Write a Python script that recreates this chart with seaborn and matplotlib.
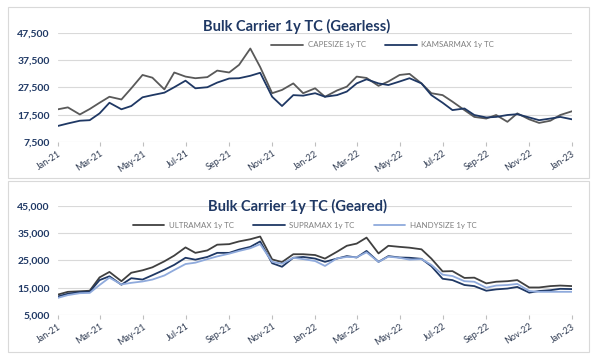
import pandas as pd
import numpy as np
import matplotlib
matplotlib.use("Agg")
import matplotlib.pyplot as plt
import matplotlib.dates as mdates
from matplotlib.patches import Rectangle
import seaborn as sns

# semi-monthly observations, Jan-21 .. Jan-23
dates = pd.date_range("2021-01-01", periods=49, freq="SMS")

capesize = [19500, 20200, 17600, 19600, 21900, 24100, 23100, 27200, 32100, 31100,
            26800, 33000, 31500, 30900, 31300, 33700, 33000, 35800, 41800, 35000,
            25400, 26600, 29000, 25400, 27200, 24100, 26400, 27800, 31500, 31000,
            28100, 29700, 32100, 32500, 29000, 25400, 24700, 22300, 19200, 16700,
            16100, 17400, 14900, 18000, 15800, 14500, 15300, 17400, 18800]
kamsarmax = [13400, 14300, 15300, 15500, 18000, 21900, 19500, 20700, 23900, 24700,
             25600, 27600, 30000, 27200, 27600, 29300, 30800, 30900, 31800, 32900,
             24100, 20700, 24700, 24500, 25400, 24100, 24700, 26000, 29000, 30500,
             29000, 28400, 29700, 30900, 29000, 24700, 21900, 19200, 19800, 17400,
             16500, 16700, 17400, 17700, 16500, 15500, 16100, 16700, 15800]

ultramax = [12500, 13500, 13700, 13900, 18800, 20800, 17400, 20500, 21400, 22500,
            24700, 26800, 29800, 27800, 28700, 30800, 31000, 32000, 32800, 33800,
            25400, 24400, 27300, 27300, 27000, 25700, 28200, 30400, 31200, 33400,
            27600, 30400, 30000, 29700, 29100, 25700, 21000, 21100, 18600, 18700,
            16600, 17200, 17400, 17800, 15100, 15100, 15600, 15800, 15600]
supramax = [11800, 12800, 13400, 13500, 17800, 19200, 16100, 18500, 18000, 19600,
            21600, 23400, 26000, 25300, 26300, 27800, 27800, 29000, 30000, 32000,
            24000, 22700, 26000, 26300, 25700, 24500, 25700, 26600, 26100, 28500,
            24500, 26600, 26100, 26000, 25600, 22900, 18300, 17800, 16000, 15600,
            13900, 14400, 14700, 15300, 13200, 13800, 14100, 14600, 14500]
handysize = [11300, 12300, 13000, 13100, 16000, 18700, 16200, 16800, 17300, 18000,
             19500, 21500, 23700, 24200, 25500, 26500, 27500, 28500, 29500, 31000,
             24500, 23800, 26000, 25500, 24800, 23000, 25800, 26300, 26200, 28000,
             24500, 26400, 26000, 25300, 25500, 23400, 19800, 19300, 17400, 17200,
             15000, 15800, 16000, 16400, 13800, 13500, 13500, 13500, 13500]

top_names = ["CAPESIZE 1y TC", "KAMSARMAX 1y TC"]
bot_names = ["ULTRAMAX 1y TC", "SUPRAMAX 1y TC", "HANDYSIZE 1y TC"]
top_ticks = [7500, 17500, 27500, 37500, 47500]
bot_ticks = [5000, 15000, 25000, 35000, 45000]

top_df = pd.DataFrame({"date": dates, top_names[0]: capesize, top_names[1]: kamsarmax})
top_df = top_df.melt("date", var_name="series", value_name="rate")
bot_df = pd.DataFrame({"date": dates, bot_names[0]: ultramax,
                       bot_names[1]: supramax, bot_names[2]: handysize})
bot_df = bot_df.melt("date", var_name="series", value_name="rate")

sns.set_style("white")
plt.rcParams["font.family"] = ["Lato", "DejaVu Sans"]

navy = "#1F3864"
fig = plt.figure(figsize=(6, 3.59), dpi=100)

# panel frames
for y0 in (0.504, 0.0195):
    fig.patches.append(Rectangle((0.013, y0), 0.968, 0.476, transform=fig.transFigure,
                                 fill=False, edgecolor="#D9D9D9", linewidth=0.8))

ax1 = fig.add_axes([0.0967, 0.6045, 0.857, 0.3036])
ax2 = fig.add_axes([0.0967, 0.1226, 0.857, 0.3036])

sns.lineplot(data=top_df, x="date", y="rate", hue="series",
             palette=["#595959", navy], linewidth=1.3, ax=ax1, legend=True)
sns.lineplot(data=bot_df, x="date", y="rate", hue="series",
             palette=["#404040", navy, "#8FAADC"], linewidth=1.3, ax=ax2, legend=True)

def style(ax, ticks, title, ty, lx):
    ax.set_ylim(ticks[0], ticks[-1])
    ax.set_xlim(pd.Timestamp("2021-01-01"), pd.Timestamp("2023-01-01"))
    ax.set_yticks(ticks)
    ax.set_yticklabels([f"{t:,}" for t in ticks], fontsize=7.5, fontweight="bold", color=navy)
    ax.xaxis.set_major_locator(mdates.MonthLocator(bymonth=[1, 3, 5, 7, 9, 11]))
    ax.xaxis.set_major_formatter(mdates.DateFormatter("%b-%y"))
    for lab in ax.get_xticklabels():
        lab.set_rotation(33)
        lab.set_ha("right")
        lab.set_rotation_mode("anchor")
        lab.set_fontsize(6.5)
        lab.set_color("#2F3B52")
    ax.grid(axis="y", color="#D9D9D9", linewidth=0.8)
    for s in ax.spines.values():
        s.set_visible(False)
    ax.tick_params(axis="x", length=3, color="#BFBFBF", pad=2, bottom=True)
    ax.tick_params(axis="y", length=0, pad=6)
    ax.set_xlabel("")
    ax.set_ylabel("")
    fig.text(0.495, ty, title, ha="center", va="center", fontsize=10.5,
             fontweight="bold", color=navy)
    h, l = ax.get_legend_handles_labels()
    ax.legend(h, l, loc="center", bbox_to_anchor=(lx, ty - 0.052), bbox_transform=fig.transFigure,
              ncol=len(l), frameon=False, fontsize=5.7, labelcolor="#7F7F7F",
              handlelength=4.0, columnspacing=2.4, handletextpad=0.6)

style(ax1, top_ticks, "Bulk Carrier 1y TC (Gearless)", 0.927, 0.638)
style(ax2, bot_ticks, "Bulk Carrier 1y TC (Geared)", 0.425, 0.508)

fig.savefig("out.png", dpi=100, facecolor="white")
